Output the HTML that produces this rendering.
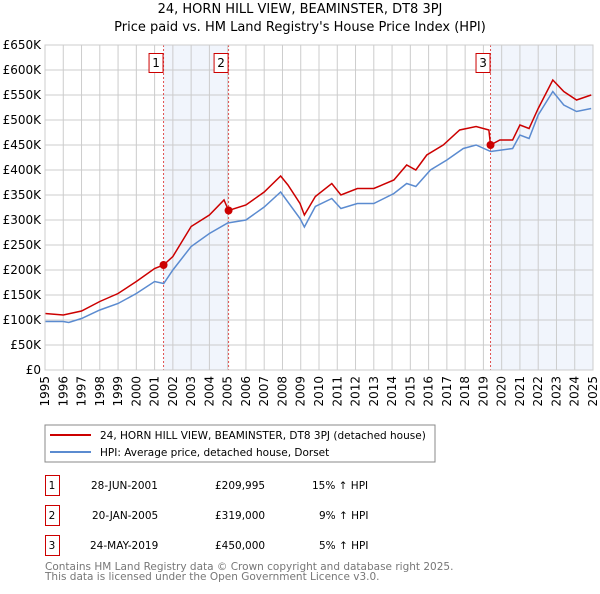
<!DOCTYPE html>
<html><head><meta charset="utf-8"><style>
body{margin:0;background:#fff;width:600px;height:590px;overflow:hidden;font-family:"DejaVu Sans","Liberation Sans",sans-serif}
svg text{font-family:"DejaVu Sans","Liberation Sans",sans-serif}
</style></head><body>
<svg id="c" width="600" height="590" xmlns="http://www.w3.org/2000/svg">
<text x="300" y="13" text-anchor="middle" font-size="13">24, HORN HILL VIEW, BEAMINSTER, DT8 3PJ</text>
<text x="300" y="31" text-anchor="middle" font-size="13">Price paid vs. HM Land Registry's House Price Index (HPI)</text>
<g id="plot"></g>
<rect x="45" y="425" width="390" height="37" fill="#fff" stroke="#888"/>
<line x1="50" y1="435" x2="91" y2="435" stroke="#cc0000" stroke-width="2"/>
<text x="100" y="439" font-size="10.5">24, HORN HILL VIEW, BEAMINSTER, DT8 3PJ (detached house)</text>
<line x1="50" y1="452" x2="91" y2="452" stroke="#5b8bd0" stroke-width="2"/>
<text x="100" y="456" font-size="10.5">HPI: Average price, detached house, Dorset</text>
<g font-size="10.5">
<rect x="45.5" y="475.5" width="14" height="20" fill="none" stroke="#cc0000"/><text x="52" y="489" text-anchor="middle">1</text>
<text x="91" y="489">28-JUN-2001</text><text x="215" y="489">£209,995</text><text x="312" y="489">15% ↑ HPI</text>
<rect x="45.5" y="505.5" width="14" height="20" fill="none" stroke="#cc0000"/><text x="52" y="519" text-anchor="middle">2</text>
<text x="92" y="519">20-JAN-2005</text><text x="215" y="519">£319,000</text><text x="319" y="519">9% ↑ HPI</text>
<rect x="45.5" y="535.5" width="14" height="20" fill="none" stroke="#cc0000"/><text x="52" y="549" text-anchor="middle">3</text>
<text x="90" y="549">24-MAY-2019</text><text x="215" y="549">£450,000</text><text x="319" y="549">5% ↑ HPI</text>
</g>
<text x="45" y="570" font-size="10.5" fill="#777">Contains HM Land Registry data © Crown copyright and database right 2025.</text>
<text x="45" y="580" font-size="10.5" fill="#777">This data is licensed under the Open Government Licence v3.0.</text>
</svg>
<script>
const hpiYears=[1995,1996,1996.3,1997,1998,1999,2000,2001,2001.5,2002,2003,2004,2005,2006,2007,2007.9,2008.96,2009.2,2009.8,2010.7,2011.2,2012.1,2013,2014.1,2014.8,2015.3,2016.1,2017,2017.9,2018.6,2019.4,2020.6,2021,2021.5,2022,2022.8,2023.4,2024.1,2024.9];
const hpiValues=[97,97,95,103,120,133,153,177,173,200,247,273,294,300,326,356,303,286,327,343,323,333,333,353,373,367,400,420,443,450,437,443,470,463,510,557,530,517,523];
const propYears=[1995,1996,1997,1998,1999,2000,2001,2001.49,2002,2003,2004,2004.8,2005.05,2006,2007,2007.9,2008.3,2008.96,2009.2,2009.8,2010.7,2011.2,2012.1,2013,2014.1,2014.8,2015.3,2015.9,2016.8,2017.7,2018.6,2019.3,2019.39,2019.9,2020.6,2021,2021.5,2022,2022.8,2023.4,2024.1,2024.9];
const propValues=[113,110,118,137,153,177,203,210,227,287,310,340,319,330,356,388,370,333,310,347,373,350,363,363,380,410,400,430,450,480,487,480,450,460,460,490,483,523,580,557,540,550];
const saleYears=[2001.49,2005.05,2019.39];
const saleValues=[209.995,319,450];
const saleLabels=["1","2","3"];
const yTicks=[0,50,100,150,200,250,300,350,400,450,500,550,600,650];
const yTickLabels=["£0","£50K","£100K","£150K","£200K","£250K","£300K","£350K","£400K","£450K","£500K","£550K","£600K","£650K"];
const xTicks=[1995,1996,1997,1998,1999,2000,2001,2002,2003,2004,2005,2006,2007,2008,2009,2010,2011,2012,2013,2014,2015,2016,2017,2018,2019,2020,2021,2022,2023,2024,2025];
const L=45,R=593,T=45,B=370;
const xs=y=>L+(y-1995)/30*(R-L);
const ys=v=>B-v/650*(B-T);
const NS="http://www.w3.org/2000/svg";
const g=document.getElementById('plot');
function mk(t,a,p){const e=document.createElementNS(NS,t);for(const k in a)e.setAttribute(k,a[k]);(p||g).appendChild(e);return e;}
let b1=mk('rect',{x:xs(saleYears[0]),y:T,width:xs(saleYears[1])-xs(saleYears[0]),height:B-T,fill:'#eef2fb',opacity:0.8});


let b2=mk('rect',{x:xs(saleYears[2]),y:T,width:R-xs(saleYears[2]),height:B-T,fill:'#eef2fb',opacity:0.8});


yTicks.forEach((v,i)=>{
 const l=mk('line',{x1:L,x2:R,y1:ys(v),y2:ys(v),stroke:'#ccc'});
 
 
 const t=mk('text',{x:L-4,y:ys(v)+4,'text-anchor':'end','font-size':12});
 t.textContent=yTickLabels[i];
 
 
});
xTicks.forEach(y=>{
 const l=mk('line',{x1:xs(y),x2:xs(y),y1:T,y2:B,stroke:'#ccc'});
 
 
 const t=mk('text',{x:0,y:0,'font-size':12,'text-anchor':'end',transform:`translate(${xs(y)+4},${B+6}) rotate(-90)`});
 t.textContent=y;
 
 
});
saleYears.forEach((y,i)=>{
 const l=mk('line',{x1:xs(y),x2:xs(y),y1:T,y2:B,stroke:'#e05050','stroke-dasharray':'2,2'});
 
 
 const r=mk('rect',{x:xs(y)-14.5,y:T+8.5,width:14,height:19,fill:'#fff',stroke:'#cc0000'});
 
 
 const t=mk('text',{x:xs(y)-7.5,y:T+22,'text-anchor':'middle','font-size':12});
 t.textContent=saleLabels[i];
 
 
});
const hp=mk('polyline',{points:hpiYears.map((y,i)=>xs(y)+','+ys(hpiValues[i])).join(' '),fill:'none',stroke:'#5b8bd0','stroke-width':1.5});


const pp=mk('polyline',{points:propYears.map((y,i)=>xs(y)+','+ys(propValues[i])).join(' '),fill:'none',stroke:'#cc0000','stroke-width':1.5});


saleYears.forEach((y,i)=>{
 const c=mk('circle',{cx:xs(y),cy:ys(saleValues[i]),r:4,fill:'#cc0000'});
 
 
});
const ax=mk('rect',{x:L,y:T,width:R-L,height:B-T,fill:'none',stroke:'#ccc'});


</script>
</body></html>
